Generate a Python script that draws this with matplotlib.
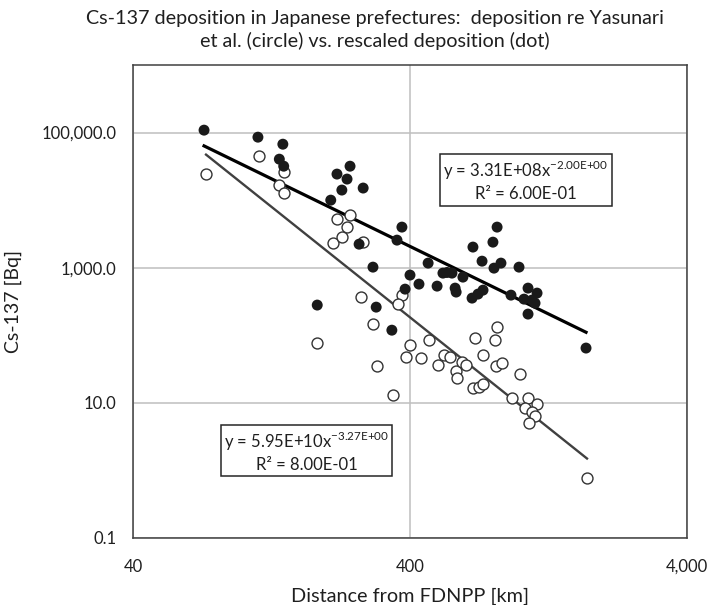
import numpy as np
import matplotlib
matplotlib.use("Agg")
import matplotlib.pyplot as plt
from matplotlib.ticker import FixedLocator, FixedFormatter, NullLocator

plt.rcParams['font.family'] = ['Lato', 'DejaVu Sans']

# rescaled deposition (dot)
dist_dot = [72.2, 113, 139, 135, 140, 243, 218, 237, 227, 271, 207, 374, 359, 262,
            294, 465, 400, 431, 501, 526, 567, 544, 582, 587, 384, 185, 302, 344,
            825, 675, 797, 728, 852, 804, 990, 621, 670, 704, 734, 926, 1067, 1150,
            1032, 1103, 1131, 1067, 1728]
dep_dot = [108600, 85500, 67300, 40400, 31800, 31800, 24300, 20500, 14100, 15100,
           10000, 3990, 2560, 2230, 1020, 1170, 778, 572, 534, 832, 832, 850, 499,
           436, 482, 280, 261, 119, 3990, 2020, 2390, 1250, 1170, 986, 1020, 726,
           355, 407, 466, 393, 499, 421, 343, 332, 299, 206, 64.7]

# deposition re Yasunari et al. (circle)
dist_circ = [73.4, 114, 140, 135, 140, 218, 211, 243, 237, 227, 271, 266, 294, 185,
             304, 347, 374, 362, 400, 469, 387, 438, 505, 531, 558, 587, 591, 616,
             637, 687, 675, 710, 734, 734, 825, 811, 818, 860, 998, 934, 1067, 1150,
             1041, 1103, 1131, 1076, 1742]
dep_circ = [24300, 44800, 25900, 16700, 12700, 5240, 2310, 6000, 3990, 2840, 2390,
            367, 146, 76.7, 35.0, 13.0, 393, 290, 71.6, 84.9, 47.6, 46.0, 36.2, 50.9,
            47.6, 29.5, 23.3, 40.2, 36.2, 90.9, 16.6, 17.1, 19.0, 50.9, 132, 84.9,
            35.0, 38.8, 26.7, 11.8, 11.8, 9.6, 8.4, 7.3, 6.4, 5.0, 0.77]

# power-law trendlines as printed on the chart: y = a * x^b
fit_dot = (3.31e8, -2.00)
fit_circ = (5.95e10, -3.27)

x_ticks = [40, 400, 4000]
x_labels = ['40', '400', '4,000']
y_ticks = [0.1, 10, 1000, 100000]
y_labels = ['0.1', '10.0', '1,000.0', '100,000.0']

txt_col = '#1f1f1f'

fig = plt.figure(figsize=(7.09, 6.05), dpi=100)
ax = fig.add_axes([133 / 709, 1 - 538 / 605, 554 / 709, 473 / 605])

ax.set_xscale('log')
ax.set_yscale('log')
ax.set_xlim(40, 4000)
ax.set_ylim(0.1, 1e6)

ax.xaxis.set_major_locator(FixedLocator(x_ticks))
ax.xaxis.set_major_formatter(FixedFormatter(x_labels))
ax.yaxis.set_major_locator(FixedLocator(y_ticks))
ax.yaxis.set_major_formatter(FixedFormatter(y_labels))
ax.xaxis.set_minor_locator(NullLocator())
ax.yaxis.set_minor_locator(NullLocator())
ax.tick_params(length=0, labelsize=12, colors=txt_col)
ax.tick_params(axis='y', pad=12)
ax.tick_params(axis='x', pad=15)
ax.grid(True, color='#bfbfbf', linewidth=1.1)
ax.set_axisbelow(True)
for sp in ax.spines.values():
    sp.set_color('#404040')
    sp.set_linewidth(1.1)

# trendlines
xd = np.geomspace(min(dist_dot), max(dist_dot), 50)
ax.plot(xd, fit_dot[0] * xd ** fit_dot[1], color='#000000', lw=2.3, zorder=3)
xc = np.geomspace(min(dist_circ), max(dist_circ), 50)
ax.plot(xc, fit_circ[0] * xc ** fit_circ[1], color='#404040', lw=1.7, zorder=3)

ax.scatter(dist_circ, dep_circ, s=62, facecolors='white', edgecolors='#333333',
           linewidths=1.0, zorder=4)
ax.scatter(dist_dot, dep_dot, s=62, color='#1a1a1a', edgecolors='none', zorder=5)

box = dict(boxstyle='square,pad=0.2', facecolor='white', edgecolor='#262626', lw=1.1)
ax.text(0.709, 0.755,
        'y = 3.31E+08x$^{\\mathregular{-2.00E{+}00}}$\nR² = 6.00E-01',
        transform=ax.transAxes, ha='center', va='center', fontsize=12,
        linespacing=1.3, bbox=box, zorder=6, color=txt_col)
ax.text(0.313, 0.183,
        'y = 5.95E+10x$^{\\mathregular{-3.27E{+}00}}$\nR² = 8.00E-01',
        transform=ax.transAxes, ha='center', va='center', fontsize=12,
        linespacing=1.3, bbox=box, zorder=6, color=txt_col)

ax.set_xlabel('Distance from FDNPP [km]', fontsize=14.3, color=txt_col)
ax.set_ylabel('Cs-137 [Bq]', fontsize=14, color=txt_col)
ax.xaxis.set_label_coords(0.5, -0.106)
ax.yaxis.set_label_coords(-0.2, 0.5)

fig.text(375 / 709, 1 - 30 / 605,
         'Cs-137 deposition in Japanese prefectures:  deposition re Yasunari\n'
         'et al. (circle) vs. rescaled deposition (dot)',
         ha='center', va='center', fontsize=14.2, color=txt_col, linespacing=1.3)

plt.savefig('out.png', dpi=100)
